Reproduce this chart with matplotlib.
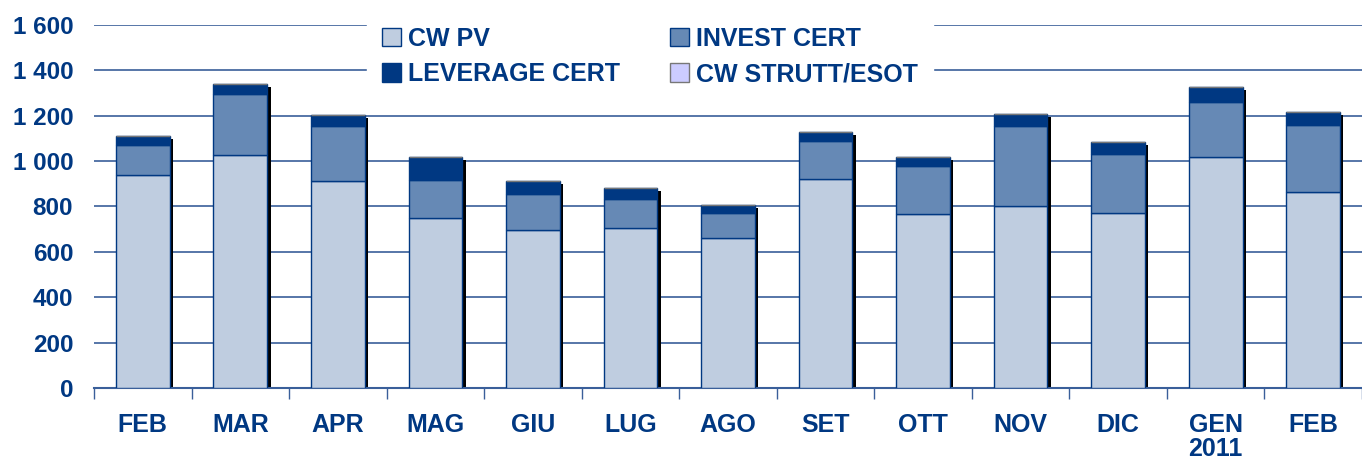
import numpy as np
import matplotlib
matplotlib.use('Agg')
import matplotlib.pyplot as plt
from matplotlib.patches import Patch

# dati
MESI = ['FEB', 'MAR', 'APR', 'MAG', 'GIU', 'LUG', 'AGO', 'SET', 'OTT',
        'NOV', 'DIC', 'GEN\n2011', 'FEB']
cw_pv     = [939, 1027, 912, 749, 696, 705, 661, 921, 767, 802, 771, 1018, 864]
invest    = [132,  269, 243, 168, 159, 128, 110, 168, 211, 353, 260,  242, 295]
leverage  = [ 39,   44,  48, 101,  57,  48,  35,  39,  40,  53,  53,   67,  57]
cw_strutt = [  0,    0,   0,   0,   0,   0,   0,   0,   0,   0,   0,    0,   0]
Y_TICKS = [0, 200, 400, 600, 800, 1000, 1200, 1400, 1600]
Y_LABELS = ['0', '200', '400', '600', '800', '1 000', '1 200', '1 400', '1 600']

NAVY   = '#003882'
C_PV   = '#BFCDE0'
C_INV  = '#6689B5'
C_LEV  = '#003882'
C_STR  = '#CCCCFF'
GRID   = '#3A5F9A'

plt.rcParams['font.family'] = ['Liberation Sans', 'DejaVu Sans']
plt.rcParams['font.weight'] = 'bold'

fig = plt.figure(figsize=(13.62, 4.61), dpi=100)
ax = fig.add_axes([0.069, 0.1584, 0.931, 0.7874])

x = np.arange(len(MESI))
w = 0.55
pv = np.array(cw_pv); inv = np.array(invest)
lev = np.array(leverage); st = np.array(cw_strutt)
tot = pv + inv + lev + st

# ombra nera a destra delle barre
ax.bar(x + 0.035, tot - 12, width=w, color='black', zorder=2)
ax.bar(x, pv, width=w, color=C_PV, edgecolor=NAVY, lw=1, zorder=3)
ax.bar(x, inv, width=w, bottom=pv, color=C_INV, edgecolor=NAVY, lw=1, zorder=3)
ax.bar(x, lev, width=w, bottom=pv + inv, color=C_LEV, edgecolor=NAVY, lw=1, zorder=3)
ax.bar(x, st, width=w, bottom=pv + inv + lev, color=C_STR, edgecolor='#777777', lw=1, zorder=3)

ax.set_xlim(-0.5, len(MESI) - 0.5)
ax.set_ylim(0, 1600)
ax.set_yticks(Y_TICKS)
ax.set_yticklabels(Y_LABELS)
for yv in Y_TICKS[1:]:
    ax.axhline(yv, color=GRID, lw=1.2, zorder=1)

ax.set_xticks(np.arange(len(MESI) + 1) - 0.5)
ax.set_xticklabels([])
ax.set_xticks(x, minor=True)
ax.set_xticklabels(MESI, minor=True, linespacing=1.0)
ax.tick_params(axis='x', which='major', length=8, width=1, color=GRID, direction='out')
ax.tick_params(axis='x', which='minor', length=0, pad=18, labelsize=18, labelcolor=NAVY)
ax.tick_params(axis='y', length=0, pad=15, labelsize=17.5, labelcolor=NAVY)
for lab in ax.get_xticklabels(minor=True):
    lab.set_verticalalignment('top')

for s in ['top', 'right', 'left']:
    ax.spines[s].set_visible(False)
ax.spines['bottom'].set_color(GRID)
ax.spines['bottom'].set_linewidth(1.5)

handles = [Patch(facecolor=C_PV, edgecolor=NAVY, label='CW PV'),
           Patch(facecolor=C_LEV, edgecolor=NAVY, label='LEVERAGE CERT'),
           Patch(facecolor=C_INV, edgecolor=NAVY, label='INVEST CERT'),
           Patch(facecolor=C_STR, edgecolor='#777777', label='CW STRUTT/ESOT')]
leg = fig.legend(handles=handles, ncol=2, loc='upper left',
                 bbox_to_anchor=(367 / 1362, 1 - 12 / 461),
                 frameon=True, facecolor='white', edgecolor='white', framealpha=1,
                 fontsize=18, handlelength=0.75, handleheight=0.75,
                 handletextpad=0.3, columnspacing=2.0, labelspacing=0.45,
                 borderpad=0.6, borderaxespad=0)
for t in leg.get_texts():
    t.set_color(NAVY)
    t.set_fontweight('bold')

fig.savefig('out.png', dpi=100, facecolor='white')
